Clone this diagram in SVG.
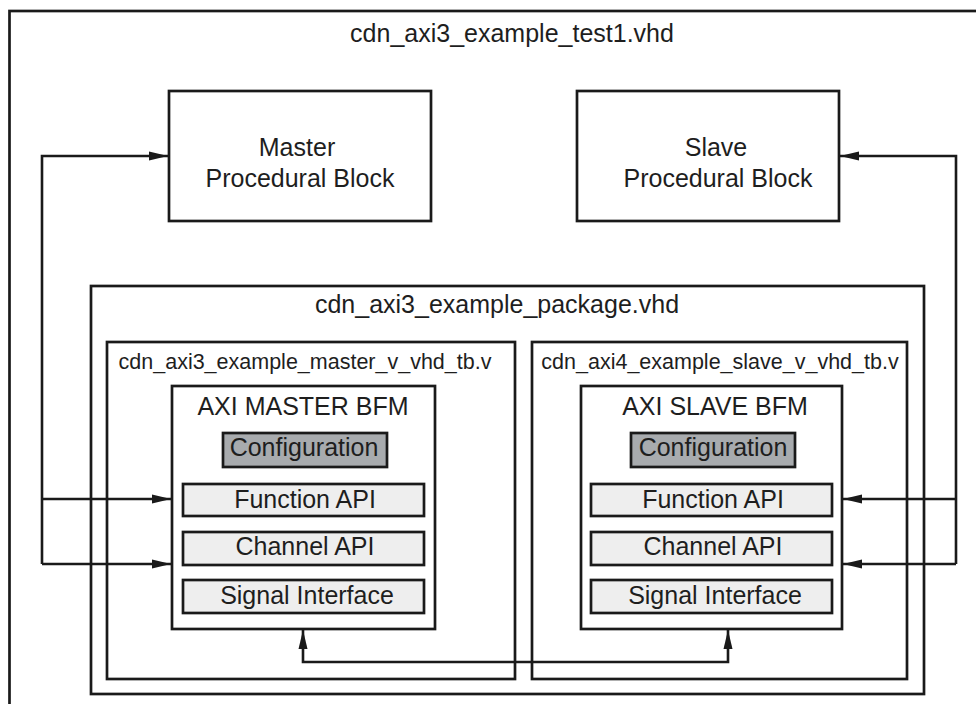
<svg xmlns="http://www.w3.org/2000/svg" width="976" height="704" viewBox="0 0 976 704">
<style>
  text { font-family: "Liberation Sans", Arial, sans-serif; fill: #1e1e1e; text-anchor: middle; }
  .big { font-size: 25px; }
  .mid { font-size: 21.5px; }
  .box { fill: #ffffff; stroke: #1a1a1a; stroke-width: 2.7; }
  .frame { fill: none; stroke: #1a1a1a; stroke-width: 2.7; }
  .cfg { fill: #a8abae; stroke: #1a1a1a; stroke-width: 2.7; }
  .api { fill: #eeeeee; stroke: #1a1a1a; stroke-width: 2.7; }
  .conn { fill: none; stroke: #1a1a1a; stroke-width: 2.6; }
</style>
<defs>
  <marker id="arrow" markerUnits="userSpaceOnUse" markerWidth="19" markerHeight="11" refX="19" refY="5.5" orient="auto-start-reverse">
    <path d="M0,1 L19,5.5 L0,10 z" fill="#1a1a1a"/>
  </marker>
</defs>
<rect width="976" height="704" fill="#ffffff"/>

<g id="test1">
  <rect class="frame" x="9.5" y="11" width="980" height="710"/>
  <text class="big" x="512" y="42">cdn_axi3_example_test1.vhd</text>
</g>

<g id="master-proc">
  <rect class="box" x="169" y="91" width="262" height="130"/>
  <text class="big" x="297" y="156">Master</text>
  <text class="big" x="300" y="187">Procedural Block</text>
</g>

<g id="slave-proc">
  <rect class="box" x="577" y="91" width="262" height="130"/>
  <text class="big" x="716" y="156">Slave</text>
  <text class="big" x="718" y="187">Procedural Block</text>
</g>

<g id="package">
  <rect class="frame" x="91" y="286" width="833" height="408"/>
  <text class="big" x="497" y="313">cdn_axi3_example_package.vhd</text>
</g>

<g id="master-tb">
  <rect class="frame" x="107" y="342" width="408" height="337"/>
  <text class="mid" x="305" y="369">cdn_axi3_example_master_v_vhd_tb.v</text>
</g>

<g id="slave-tb">
  <rect class="frame" x="532" y="342" width="375" height="337"/>
  <text class="mid" x="720" y="369">cdn_axi4_example_slave_v_vhd_tb.v</text>
</g>

<g id="master-bfm">
  <rect class="box" x="172" y="386" width="263" height="243"/>
  <text class="big" x="303" y="415">AXI MASTER BFM</text>
  <rect class="cfg" x="223" y="433" width="164" height="34"/>
  <text class="big" x="304" y="456">Configuration</text>
  <rect class="api" x="183" y="484" width="241" height="32"/>
  <text class="big" x="305" y="508">Function API</text>
  <rect class="api" x="183" y="532" width="241" height="33"/>
  <text class="big" x="305" y="555">Channel API</text>
  <rect class="api" x="183" y="580" width="241" height="33"/>
  <text class="big" x="307" y="604">Signal Interface</text>
</g>

<g id="slave-bfm">
  <rect class="box" x="581" y="386" width="261" height="243"/>
  <text class="big" x="715" y="415">AXI SLAVE BFM</text>
  <rect class="cfg" x="631" y="433" width="164" height="34"/>
  <text class="big" x="713" y="456">Configuration</text>
  <rect class="api" x="591" y="484" width="241" height="32"/>
  <text class="big" x="713" y="508">Function API</text>
  <rect class="api" x="591" y="532" width="241" height="33"/>
  <text class="big" x="713" y="555">Channel API</text>
  <rect class="api" x="591" y="580" width="241" height="33"/>
  <text class="big" x="715" y="604">Signal Interface</text>
</g>

<g id="connectors">
  <path class="conn" d="M42,564 L42,156 L168,156" marker-end="url(#arrow)"/>
  <path class="conn" d="M42,499 L171,499" marker-end="url(#arrow)"/>
  <path class="conn" d="M42,564 L171,564" marker-end="url(#arrow)"/>
  <path class="conn" d="M956,564 L956,156 L840,156" marker-end="url(#arrow)"/>
  <path class="conn" d="M956,499 L843,499" marker-end="url(#arrow)"/>
  <path class="conn" d="M956,564 L843,564" marker-end="url(#arrow)"/>
  <path class="conn" d="M303,630 L303,662 L728,662 L728,630" marker-start="url(#arrow)" marker-end="url(#arrow)"/>
</g>
</svg>
